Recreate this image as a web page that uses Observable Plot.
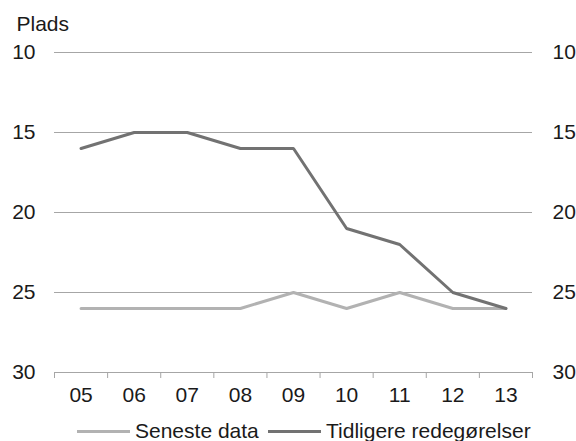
<!DOCTYPE html>
<html>
<head>
<meta charset="utf-8">
<script src="https://cdn.jsdelivr.net/npm/d3@7"></script>
<script src="https://cdn.jsdelivr.net/npm/@observablehq/plot@0.6"></script>
<style>
  html, body { margin: 0; padding: 0; background: #fff; }
  body { width: 576px; height: 441px; overflow: hidden; font-family: "Liberation Sans", Arial, sans-serif; }
  #legend { position: relative; height: 26px; font-size: 21px; color: #1a1a1a; }
  .item { position: absolute; top: 3px; display: flex; align-items: center; height: 26px; white-space: nowrap; }
  .sw { display: inline-block; height: 3px; width: 53px; margin-right: 5px; }
</style>
</head>
<body>
<div id="chart"></div>
<div id="legend"></div>
<script>
const years = ["05", "06", "07", "08", "09", "10", "11", "12", "13"];
const seneste = [26, 26, 26, 26, 25, 26, 25, 26, 26];
const tidligere = [16, 15, 15, 16, 16, 21, 22, 25, 26];
const seriesNames = ["Seneste data", "Tidligere redegørelser"];
const seriesColors = ["#b2b2b2", "#727272"];
const yTicks = [10, 15, 20, 25, 30];

const rows = [];
years.forEach((yr, i) => {
  rows.push({i, series: seriesNames[0], value: seneste[i]});
  rows.push({i, series: seriesNames[1], value: tidligere[i]});
});
const idx = years.map((_, i) => i);
const bounds = d3.range(years.length + 1).map(k => k - 0.5);

const font = "Liberation Sans, Arial, sans-serif";
const plot = Plot.plot({
  width: 576,
  height: 415,
  marginTop: 52,
  marginBottom: 43,
  marginLeft: 54,
  marginRight: 44,
  style: {fontFamily: font, fontSize: "21px", color: "#1a1a1a", background: "#fff"},
  x: {type: "linear", domain: [-0.5, years.length - 0.5]},
  y: {domain: [10, 30], reverse: true},
  color: {domain: seriesNames, range: seriesColors},
  marks: [
    Plot.ruleY(yTicks, {stroke: "#a6a6a6", strokeWidth: 1}),
    Plot.axisX(bounds, {tickSize: 6, tickFormat: () => "", stroke: "#a6a6a6", label: null}),
    Plot.axisX(idx, {tickSize: 0, tickPadding: 15, tickFormat: i => years[i], label: null, fontSize: 21}),
    Plot.axisY(yTicks, {anchor: "left", tickSize: 0, tickPadding: 19, label: null, fontSize: 21}),
    Plot.axisY(yTicks, {anchor: "right", tickSize: 0, tickPadding: 20, label: null, fontSize: 21}),
    Plot.line(rows, {x: "i", y: "value", z: "series", stroke: "series", strokeWidth: 3, strokeLinejoin: "miter"}),
    Plot.text(["Plads"], {frameAnchor: "top-left", dx: -38, dy: -36, textAnchor: "start", fontSize: 21})
  ]
});
document.getElementById("chart").appendChild(plot);

const legend = document.getElementById("legend");
const lefts = [77, 268];
seriesNames.forEach((name, k) => {
  const item = document.createElement("div");
  item.className = "item";
  item.style.left = lefts[k] + "px";
  const sw = document.createElement("span");
  sw.className = "sw";
  sw.style.background = seriesColors[k];
  const t = document.createElement("span");
  t.textContent = name;
  item.appendChild(sw);
  item.appendChild(t);
  legend.appendChild(item);
});
</script>
</body>
</html>
